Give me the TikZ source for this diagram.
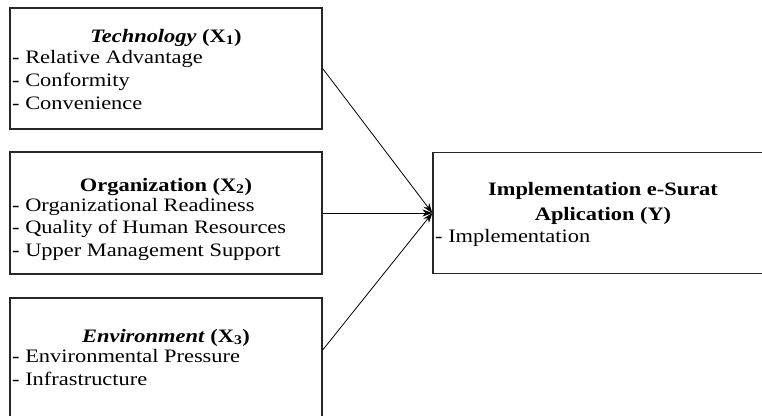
\documentclass[tikz,border=0pt]{standalone}
\usepackage{fontspec}
\setmainfont{Liberation Serif}[FakeStretch=1.18]
\usetikzlibrary{arrows.meta}
\begin{document}
\begin{tikzpicture}[x=1pt,y=-1pt,
  box/.style={draw=black!85,line width=1.3pt,inner sep=0pt,rectangle},
  txt/.style={inner sep=0pt,anchor=base west,font=\fontsize{19}{23}\selectfont},
  ttl/.style={inner sep=0pt,anchor=base,font=\fontsize{19}{23}\selectfont\bfseries},
  arr/.style={-{Stealth[length=10pt,width=7pt]},line width=0.8pt}]
\useasboundingbox (0,0) rectangle (762,415);
\clip (0,0) rectangle (762,415);
% boxes
\node[box,minimum width=312pt,minimum height=121pt] (tech) at (166,68.5) {};
\node[box,minimum width=312pt,minimum height=122pt] (org) at (166,213) {};
\node[box,minimum width=312pt,minimum height=121pt] (env) at (166,358.5) {};
\node[box,minimum width=340pt,minimum height=121pt] (impl) at (603,213) {};
% technology
\node[ttl] (t0) at (166,42) {\textit{Technology} (X\textsubscript{1})};
\node[txt] (t1) at (12,63) {- Relative Advantage};
\node[txt] (t2) at (12,86) {- Conformity};
\node[txt] (t3) at (12,109) {- Convenience};
% organization
\node[ttl] (o0) at (166,191) {Organization (X\textsubscript{2})};
\node[txt] (o1) at (12,211) {- Organizational Readiness};
\node[txt] (o2) at (12,233) {- Quality of Human Resources};
\node[txt] (o3) at (12,256) {- Upper Management Support};
% environment
\node[ttl] (e0) at (166,342) {\textit{Environment} (X\textsubscript{3})};
\node[txt] (e1) at (12,362) {- Environmental Pressure};
\node[txt] (e2) at (12,385) {- Infrastructure};
% implementation
\node[ttl] (i0) at (603,195) {Implementation e-Surat};
\node[ttl] (i1) at (603,220) {Aplication (Y)};
\node[txt] (i2) at (435,242) {- Implementation};
% arrows
\draw[arr] (tech.east) -- (impl.west);
\draw[arr] (org.east) -- (impl.west);
\draw[arr] ([yshift=8.5pt]env.east) -- (impl.west);
\end{tikzpicture}
\end{document}
